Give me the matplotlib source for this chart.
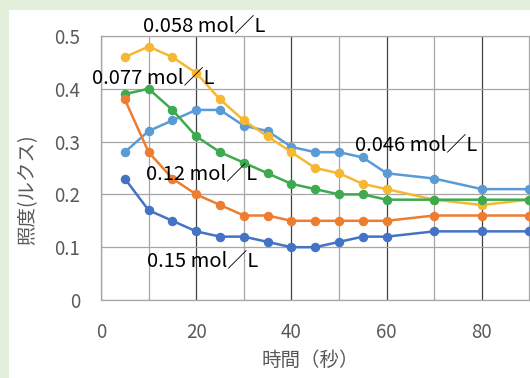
import matplotlib
matplotlib.use("Agg")
import matplotlib.pyplot as plt
from matplotlib.patches import Rectangle
from matplotlib.ticker import MultipleLocator

plt.rcParams['font.family'] = ['Noto Sans CJK JP', 'DejaVu Sans']

# time (s)
t = [5, 10, 15, 20, 25, 30, 35, 40, 45, 50, 55, 60, 70, 80, 90]

# illuminance (lux) per concentration
c046 = [0.28, 0.32, 0.34, 0.36, 0.36, 0.33, 0.32, 0.29, 0.28, 0.28, 0.27, 0.24, 0.23, 0.21, 0.21]
c058 = [0.46, 0.48, 0.46, 0.43, 0.38, 0.34, 0.31, 0.28, 0.25, 0.24, 0.22, 0.21, 0.19, 0.18, 0.19]
c077 = [0.39, 0.40, 0.36, 0.31, 0.28, 0.26, 0.24, 0.22, 0.21, 0.20, 0.20, 0.19, 0.19, 0.19, 0.19]
c12 = [0.38, 0.28, 0.23, 0.20, 0.18, 0.16, 0.16, 0.15, 0.15, 0.15, 0.15, 0.15, 0.16, 0.16, 0.16]
c15 = [0.23, 0.17, 0.15, 0.13, 0.12, 0.12, 0.11, 0.10, 0.10, 0.11, 0.12, 0.12, 0.13, 0.13, 0.13]

series = [c046, c058, c077, c12, c15]
colors = ["#5B9BD5", "#F6B833", "#3DAA4F", "#ED7D31", "#4472C4"]
labels = ["0.046 mol／L", "0.058 mol／L", "0.077 mol／L", "0.12 mol／L", "0.15 mol／L"]
label_pos = [(66.2, 0.294), (21.6, 0.519), (10.9, 0.42), (21.2, 0.239), (21.4, 0.074)]
xticks = [0, 20, 40, 60, 80]
yticks = [0, 0.1, 0.2, 0.3, 0.4, 0.5]
ytick_labels = ["0", "0.1", "0.2", "0.3", "0.4", "0.5"]

fig = plt.figure(figsize=(5.3, 3.78), dpi=100)
fig.patch.set_facecolor("#E2EFDA")
fig.patches.append(Rectangle((9 / 530, 0), 1, 1 - 10 / 378, transform=fig.transFigure,
                             facecolor="white", edgecolor="none", zorder=-10))

# axes run past the right edge of the picture (cropped at ~90 s)
ax = fig.add_axes([101 / 530, 78 / 378, 476 / 530, 264 / 378])
ax.set_zorder(5)
ax.set_facecolor("none")

for y, c in zip(series, colors):
    ax.plot(t, y, color=c, lw=1.8, marker="o", ms=5.8, zorder=3)

ax.set_xlim(0, 100)
ax.set_ylim(0, 0.5)
ax.set_xticks(xticks)
ax.xaxis.set_minor_locator(MultipleLocator(10))
ax.set_yticks(yticks, ytick_labels)
ax.grid(which="major", axis="x", color="#404040", lw=0.9)
ax.grid(which="minor", axis="x", color="#A6A6A6", lw=0.9)
ax.grid(which="major", axis="y", color="#A6A6A6", lw=0.9)
ax.tick_params(which="both", length=0, labelsize=13.5, labelcolor="#595959")
ax.tick_params(axis="x", pad=16)
ax.tick_params(axis="y", pad=15)
for s in ax.spines.values():
    s.set_color("#A6A6A6")
    s.set_linewidth(0.9)

for txt, (x, y) in zip(labels, label_pos):
    ax.text(x, y, txt, ha="center", va="center", fontsize=14.5, color="black",
            zorder=4, clip_on=False)

ax.set_xlabel("時間（秒）", fontsize=14, color="#595959")
ax.xaxis.set_label_coords(0.439, -0.19)
ax.set_ylabel("照度(ルクス)", fontsize=14, color="#595959")
ax.yaxis.set_label_coords(-0.132, 0.417)

fig.savefig("out.png", dpi=100)
